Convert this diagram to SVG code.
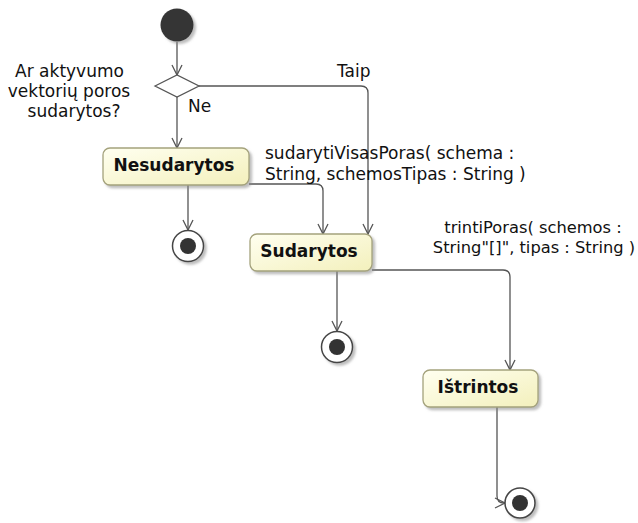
<svg xmlns="http://www.w3.org/2000/svg" width="638" height="523" viewBox="0 0 638 523">
<defs>
<linearGradient id="nodeFill" x1="0" y1="0" x2="1" y2="1">
<stop offset="0" stop-color="#fffff0"/>
<stop offset="1" stop-color="#f3f0bc"/>
</linearGradient>
<filter id="shadow" x="-10%" y="-10%" width="130%" height="140%">
<feDropShadow dx="2.5" dy="2.5" stdDeviation="1.2" flood-color="#888" flood-opacity="0.55"/>
</filter>
<marker id="arrow" viewBox="0 0 12 12" refX="11" refY="6" markerWidth="12" markerHeight="12" markerUnits="userSpaceOnUse" orient="auto">
<path d="M1,1 L11,6 L1,11" fill="none" stroke="#555" stroke-width="1.3"/>
</marker>
</defs>
<style>
.conn{fill:none;stroke:#555;stroke-width:1.3;marker-end:url(#arrow)}
.action{fill:url(#nodeFill);stroke:#a4a27c;stroke-width:1.3;filter:url(#shadow)}
.aname{font-family:"DejaVu Sans",Verdana,sans-serif;font-weight:bold;font-size:17px;fill:#111;text-anchor:middle}
.lbl{font-family:"DejaVu Sans",Verdana,sans-serif;font-size:17px;fill:#111}
.small{font-size:16.3px}
.final-o{fill:#fff;stroke:#444;stroke-width:1.5;filter:url(#shadow)}
.final-i{fill:#333}
</style>
<g id="connectors">
<path class="conn" d="M177 42 L177 75"/>
<path class="conn" d="M177 97 L177 148"/>
<path class="conn" d="M199 86 L361 86 Q368 86 368 93 L368 234"/>
<path class="conn" d="M249 184 L316 184 Q323 184 323 191 L323 234"/>
<path class="conn" d="M188 185 L188 230"/>
<path class="conn" d="M337 271 L337 331"/>
<path class="conn" d="M372 270 L503 270 Q510 270 510 277 L510 370"/>
<path class="conn" d="M497 407 L497 496 Q497 503 504 503 L505 503"/>
</g>
<g id="initial">
<circle cx="177" cy="25" r="16.5" fill="#363636" filter="url(#shadow)"/>
</g>
<g id="decision">
<polygon points="155,86 177,75 199,86 177,97" fill="#fff" stroke="#555" stroke-width="1.3"/>
<text class="lbl" text-anchor="middle"><tspan x="69.5" y="77">Ar aktyvumo</tspan><tspan x="69" y="97">vektorių poros</tspan><tspan x="74" y="117">sudarytos?</tspan></text>
</g>
<g id="guard-ne"><text class="lbl" x="188" y="112">Ne</text></g>
<g id="guard-taip"><text class="lbl" x="337" y="77">Taip</text></g>
<g id="label-sudaryti"><text class="lbl"><tspan x="265" y="159">sudarytiVisasPoras( schema :</tspan><tspan x="265" y="180">String, schemosTipas : String )</tspan></text></g>
<g id="label-trinti"><text class="lbl small" text-anchor="middle"><tspan x="533" y="233">trintiPoras( schemos :</tspan><tspan x="534" y="253">String"[]", tipas : String )</tspan></text></g>
<g id="nesudarytos">
<rect class="action" x="103" y="148" width="146" height="37" rx="7"/>
<text class="aname" x="174" y="171">Nesudarytos</text>
</g>
<g id="sudarytos">
<rect class="action" x="250" y="234" width="122" height="37" rx="7"/>
<text class="aname" x="309" y="257">Sudarytos</text>
</g>
<g id="istrintos">
<rect class="action" x="423" y="370" width="115" height="37" rx="7"/>
<text class="aname" x="478" y="393">Ištrintos</text>
</g>
<g id="final1">
<circle class="final-o" cx="188" cy="246" r="15.5"/>
<circle class="final-i" cx="188" cy="246" r="8"/>
</g>
<g id="final2">
<circle class="final-o" cx="337" cy="347" r="15.5"/>
<circle class="final-i" cx="337" cy="347" r="8"/>
</g>
<g id="final3">
<circle class="final-o" cx="520" cy="503" r="15"/>
<circle class="final-i" cx="520" cy="503" r="8"/>
</g>
</svg>
